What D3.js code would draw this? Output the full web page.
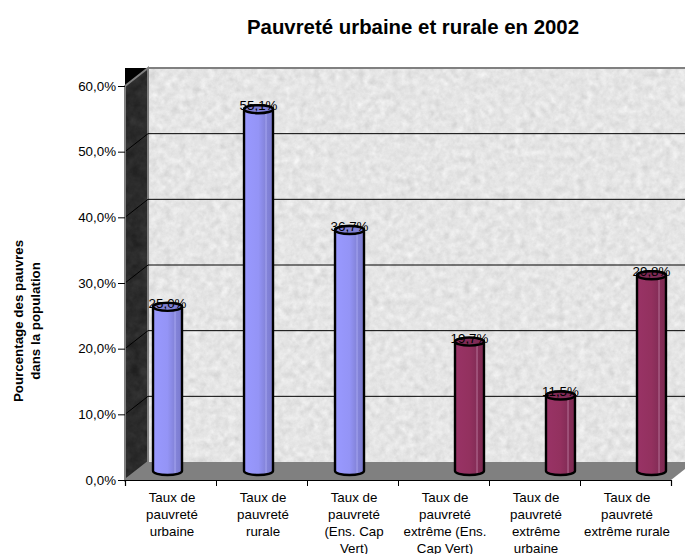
<!DOCTYPE html>
<html lang="en">
<head>
<meta charset="utf-8">
<title>Pauvreté urbaine et rurale en 2002</title>
<style>
    html, body { margin: 0; padding: 0; background: #fff; overflow: hidden; }
    text { font-family: "Liberation Sans", Arial, sans-serif; fill: #000; }
</style>
</head>
<body>
<svg width="685" height="554"></svg>
<script src="https://d3js.org/d3.v7.min.js"></script>
<script>

    var categories = [
        ["Taux de", "pauvreté", "urbaine"],
        ["Taux de", "pauvreté", "rurale"],
        ["Taux de", "pauvreté", "(Ens. Cap", "Vert)"],
        ["Taux de", "pauvreté", "extrême (Ens.", "Cap Vert)"],
        ["Taux de", "pauvreté", "extrême", "urbaine"],
        ["Taux de", "pauvreté", "extrême rurale"]
    ];
    var seriesNames = ["pauvrete", "extreme"];
    var pauvrete = [25.0, 55.1, 36.7, null, null, null];
    var extreme = [null, null, null, 19.7, 11.5, 29.8];
    var yTicks = [0, 10, 20, 30, 40, 50, 60];

    var svg = d3.select("svg"),
        defs = svg.append("defs");

    var left = 125, right = 671, bottom = 480, top_ = 86,
        depthX = 23, depthY = -18,
        fontSize = 13.33;

    var x0 = d3.scaleBand().domain(d3.range(categories.length)).range([left, right]);
    var x1 = d3.scaleBand().domain(seriesNames).range([0, x0.bandwidth()]).paddingInner(0).paddingOuter(0.57);
    var y = d3.scaleLinear().domain([0, 60]).range([bottom, top_]);

    function fr(v) { return d3.format(".1f")(v).replace(".", ",") + "%"; }

    // stone textures
    function stone(id, freq, slope, intercept) {
        var f = defs.append("filter").attr("id", id)
            .attr("x", 0).attr("y", 0).attr("width", 1).attr("height", 1)
            .attr("color-interpolation-filters", "sRGB");
        f.append("feTurbulence").attr("type", "fractalNoise")
            .attr("baseFrequency", freq).attr("numOctaves", 4).attr("seed", 7);
        f.append("feColorMatrix").attr("type", "matrix")
            .attr("values", "0.33 0.33 0.33 0 0 0.33 0.33 0.33 0 0 0.33 0.33 0.33 0 0 0 0 0 0 1");
        var t = f.append("feComponentTransfer");
        ["feFuncR", "feFuncG", "feFuncB"].forEach(function(n) {
            t.append(n).attr("type", "linear").attr("slope", slope).attr("intercept", intercept);
        });
        f.append("feGaussianBlur").attr("stdDeviation", 0.7);
    }
    stone("wallStone", 0.14, 0.26, 0.77);
    stone("sideStone", 0.1, 0.22, 0.06);

    function cylGrad(id, stops) {
        var g = defs.append("linearGradient").attr("id", id);
        stops.forEach(function(s) {
            g.append("stop").attr("offset", s[0]).attr("stop-color", s[1]);
        });
    }
    cylGrad("blueBar", [[0, "#9999ff"], [0.5, "#9494f6"], [0.72, "#8585dc"], [0.76, "#a2a2ee"], [0.8, "#8383d8"], [1, "#7a7ace"]]);
    cylGrad("redBar", [[0, "#993366"], [0.5, "#93315f"], [0.72, "#862d58"], [0.76, "#b06a90"], [0.8, "#842c56"], [1, "#7c2950"]]);

    function pts(a) { return a.map(function(p) { return p.join(","); }).join(" "); }

    // walls and floor
    var wallRight = right + depthX;
    svg.append("rect").attr("x", left + depthX).attr("y", top_ + depthY)
        .attr("width", wallRight - left - depthX).attr("height", bottom + depthY - top_ - depthY)
        .attr("filter", "url(#wallStone)");
    svg.append("polygon")
        .attr("points", pts([[left, top_], [left + depthX, top_ + depthY], [left, top_ + depthY]]))
        .attr("fill", "#000");
    svg.append("polygon")
        .attr("points", pts([[left, bottom], [left + depthX, bottom + depthY], [left + depthX, bottom]]))
        .attr("fill", "#000");

    defs.append("clipPath").attr("id", "sideClip").append("polygon")
        .attr("points", pts([[left, top_], [left + depthX, top_ + depthY], [left + depthX, bottom + depthY], [left, bottom]]));
    svg.append("rect").attr("x", left).attr("y", top_ + depthY)
        .attr("width", depthX).attr("height", bottom - top_ - depthY)
        .attr("filter", "url(#sideStone)").attr("clip-path", "url(#sideClip)");
    svg.append("polygon")
        .attr("points", pts([[left, top_], [left + depthX, top_ + depthY], [left + depthX, bottom + depthY], [left, bottom]]))
        .attr("fill", "none").attr("stroke", "#808080").attr("stroke-width", 2);

    svg.append("polygon")
        .attr("points", pts([[left, bottom], [left + depthX, bottom + depthY], [wallRight, bottom + depthY], [right, bottom]]))
        .attr("fill", "#808080");

    // top edge of the back wall
    svg.append("line").attr("x1", left + depthX).attr("x2", wallRight)
        .attr("y1", y(60) + depthY).attr("y2", y(60) + depthY)
        .attr("stroke", "#808080").attr("stroke-width", 2);

    // gridlines
    var grid = svg.append("g");
    yTicks.filter(function(t) { return t > 0 && t < 60; }).forEach(function(t) {
        grid.append("polyline")
            .attr("points", pts([[left, y(t)], [left + depthX, y(t) + depthY], [wallRight, y(t) + depthY]]))
            .attr("fill", "none").attr("stroke", "#000").attr("stroke-width", 1);
    });

    // axes
    var yAxis = svg.append("g").attr("transform", "translate(" + left + ",0)")
        .call(d3.axisLeft(y).tickValues(yTicks).tickSize(7).tickPadding(2).tickFormat(fr));
    yAxis.select(".domain").attr("stroke", "#808080");
    yAxis.selectAll("text").attr("font-size", fontSize);

    var xAxis = svg.append("g").attr("transform", "translate(0," + bottom + ")")
        .call(d3.axisBottom(d3.scaleLinear().domain([0, categories.length]).range([left, right]))
            .ticks(categories.length).tickSize(6).tickFormat(""));
    xAxis.selectAll(".domain").attr("stroke-width", 1.2);

    var catLabels = svg.append("g").selectAll("text").data(categories).join("text")
        .attr("text-anchor", "middle").attr("font-size", fontSize)
        .attr("transform", function(d, i) { return "translate(" + (x0(i) + x0.bandwidth() / 2 + 1.5) + ",501.5)"; });
    catLabels.selectAll("tspan").data(function(d) { return d; }).join("tspan")
        .attr("x", 0).attr("y", function(d, i) { return i * 17; }).text(function(d) { return d; });

    // bars
    var midX = depthX / 2, midY = depthY / 2;
    function drawSeries(name, values, fill) {
        var bw = x1.bandwidth(), rx = bw / 2, ry = 4;
        var g = svg.append("g").selectAll("g")
            .data(values.map(function(v, i) { return { v: v, i: i }; }).filter(function(d) { return d.v != null; }))
            .join("g");
        g.append("path")
            .attr("d", function(d) {
                var a = x0(d.i) + x1(name) + midX, b = a + bw,
                    t = y(d.v) + midY, f = y(0) + midY;
                return "M" + a + "," + t + "L" + a + "," + f +
                    "A" + rx + "," + ry + " 0 0 0 " + b + "," + f +
                    "L" + b + "," + t + "A" + rx + "," + ry + " 0 0 0 " + a + "," + t + "Z";
            })
            .attr("fill", "url(#" + fill + ")").attr("stroke", "#000").attr("stroke-width", 2.4)
            .attr("stroke-linejoin", "round");
        g.append("ellipse")
            .attr("cx", function(d) { return x0(d.i) + x1(name) + midX + rx; })
            .attr("cy", function(d) { return y(d.v) + midY; })
            .attr("rx", rx).attr("ry", ry)
            .attr("fill", name === "pauvrete" ? "#7f7fd4" : "#7f2a55")
            .attr("stroke", "#000").attr("stroke-width", 2.4);
        g.append("text")
            .attr("x", function(d) { return x0(d.i) + x1(name) + midX + rx; })
            .attr("y", function(d) { return y(d.v) + midY + 1; })
            .attr("text-anchor", "middle").attr("font-size", fontSize)
            .text(function(d) { return fr(d.v); });
    }
    drawSeries("pauvrete", pauvrete, "blueBar");
    drawSeries("extreme", extreme, "redBar");

    // titles
    svg.append("text").attr("x", 413).attr("y", 34).attr("text-anchor", "middle")
        .attr("font-size", 20.4).attr("font-weight", "bold")
        .text("Pauvreté urbaine et rurale en 2002");

    svg.append("text").attr("transform", "translate(23,321) rotate(-90)")
        .attr("text-anchor", "middle").attr("font-size", fontSize).attr("font-weight", "bold")
        .text("Pourcentage des pauvres");
    svg.append("text").attr("transform", "translate(40,321) rotate(-90)")
        .attr("text-anchor", "middle").attr("font-size", fontSize).attr("font-weight", "bold")
        .text("dans la population");

</script>
</body>
</html>
